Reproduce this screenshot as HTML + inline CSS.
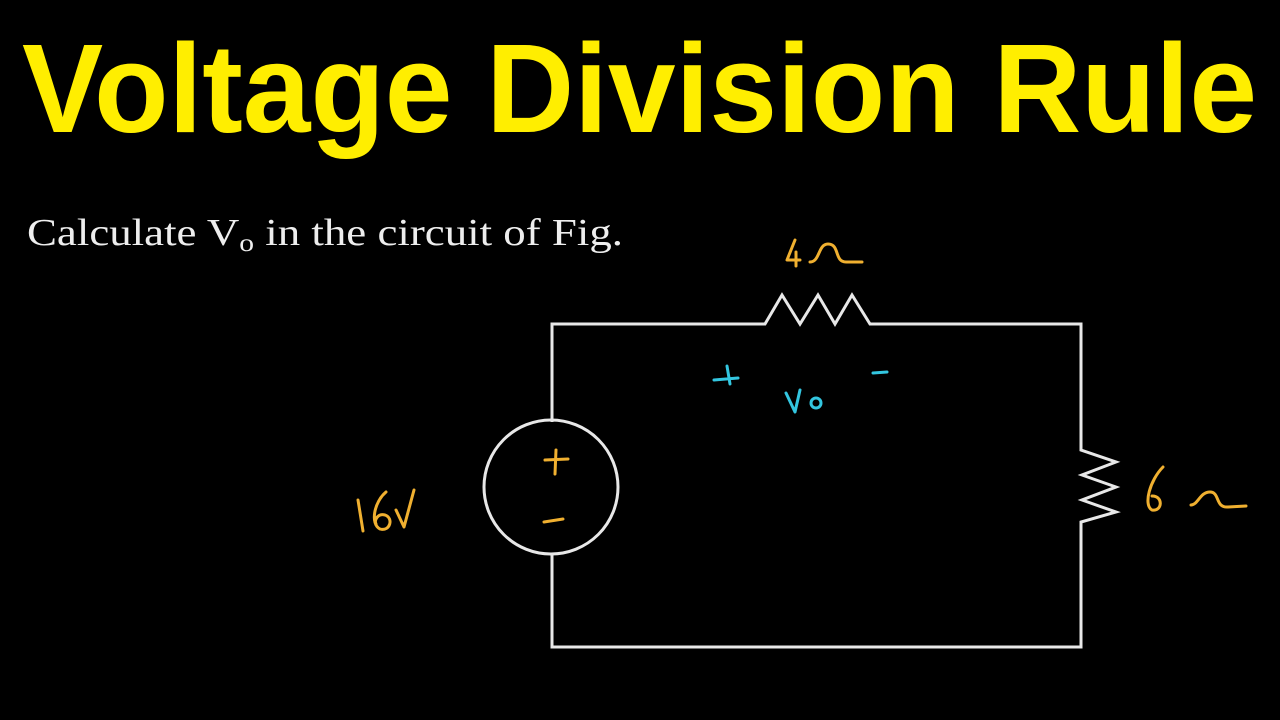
<!DOCTYPE html>
<html><head><style>html,body{margin:0;padding:0;background:#000;width:1280px;height:720px;overflow:hidden}</style></head>
<body>
<svg width="1280" height="720" xmlns="http://www.w3.org/2000/svg">
<rect width="1280" height="720" fill="#000"/>
<text x="22" y="132" font-family="Liberation Sans, sans-serif" font-weight="bold" font-size="126" fill="#ffee00" textLength="1235" lengthAdjust="spacingAndGlyphs">Voltage Division Rule</text>
<text x="27" y="245" font-family="Liberation Serif, serif" font-size="38" fill="#eeeeee" textLength="596" lengthAdjust="spacingAndGlyphs">Calculate V<tspan font-size="25" dy="6">o</tspan><tspan dy="-6"> in the circuit of Fig.</tspan></text>
<g fill="none" stroke="#e8e8e8" stroke-width="3" stroke-linejoin="miter">
<polyline points="552,422 552,324 765,324 782,295 800,324 818,295 835,324 852,295 870,324 1081,324 1081,450 1116,462 1082,475 1116,487 1082,500 1116,512 1081,522 1081,647 552,647 552,554"/>
<circle cx="551" cy="487" r="67"/>
</g>
<g fill="none" stroke="#f0b030" stroke-width="3" stroke-linecap="round" stroke-linejoin="round">
<path d="M545,460 L568,459 M556,450 L555,474"/>
<path d="M544,522 L563,519"/>
<path d="M358,500 L363,531"/>
<path d="M386,492 C374,502 370,524 380,529 C390,532 394,518 385,515 C378,513 374,520 376,524"/>
<path d="M396,510 L404,527 L414,490"/>
<path d="M795,240 L787,260 L800,260 M796,252 L796,266"/>
<path d="M810,262 C820,262 818,244 828,244 C840,244 834,262 846,262 L862,262"/>
<path d="M1163,467 C1150,480 1143,505 1152,510 C1162,512 1164,496 1152,496"/>
<path d="M1191,505 C1198,505 1200,492 1210,492 C1220,492 1215,508 1228,507 L1246,506"/>
</g>
<g fill="none" stroke="#33c6e0" stroke-width="3" stroke-linecap="round" stroke-linejoin="round">
<path d="M714,380 L738,378 M727,366 L730,384"/>
<path d="M873,373 L887,372"/>
<path d="M786,393 L795,412 L800,390"/>
<circle cx="816" cy="403" r="5"/>
</g>
</svg>
</body></html>
